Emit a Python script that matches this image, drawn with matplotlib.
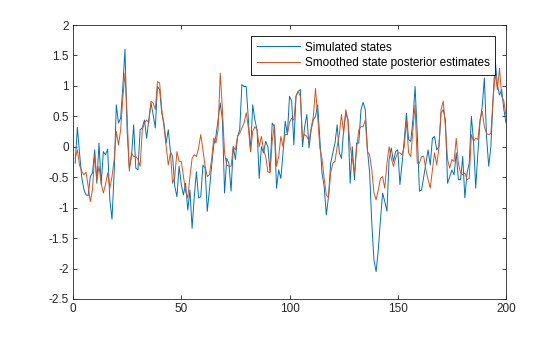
import matplotlib
matplotlib.use('Agg')
import matplotlib.pyplot as plt
import numpy as np

# values, samples 1..200
simulated = [
    -0.27, 0.32, -0.10, -0.49, -0.70, -0.79, -0.80, -0.49, -0.43, -0.05,
    -0.60, 0.06, -0.62, -0.08, -0.13, -0.04, -0.87, -1.19, -0.43, 0.69,
    0.39, 0.47, 0.99, 1.60, 0.25, -0.35, -0.16, 0.36, -0.35, -0.38,
    0.28, 0.31, 0.44, 0.14, 0.44, 0.72, 0.53, 0.31, 0.99, 0.94,
    0.55, 0.39, 0.06, 0.28, -0.08, -0.16, -0.65, -0.82, -0.32, -0.62,
    -0.79, -0.60, -1.04, -0.71, -1.34, -0.82, -0.41, -0.84, -0.82, -0.30,
    -0.35, -1.06, -0.71, -0.32, 0.03, 0.17, 0.44, 0.72, 0.44, -0.76,
    -0.19, -0.27, -0.73, 0.00, -0.21, 0.17, 0.28, 1.02, 0.99, 0.99,
    0.44, -0.08, 0.69, 0.44, 0.28, -0.52, 0.00, -0.10, 0.09, 0.00,
    -0.41, 0.39, 0.33, -0.68, -0.38, -0.52, -0.10, 0.42, 0.20, 0.83,
    0.75, 0.03, 0.83, 0.91, 0.94, 0.00, 0.33, 0.53, -0.02, 0.28,
    0.44, 0.50, 0.69, 0.12, -0.43, -0.65, -1.12, -0.82, -0.27, -0.10,
    0.06, 0.36, -0.10, -0.19, 0.28, 0.55, 0.44, -0.60, 0.00, -0.54,
    0.06, 0.06, 0.61, 0.73, 0.61, -0.05, -0.43, -1.25, -1.86, -2.05,
    -1.69, -1.20, -0.76, -0.90, -1.06, -0.21, -0.02, -0.24, -0.08, -0.05,
    -0.62, -0.27, 0.12, 0.55, 0.12, 0.09, 0.44, 0.99, 0.22, -0.73,
    -0.71, -0.49, -0.27, -0.05, -0.30, 0.14, 0.17, -0.05, 0.00, 0.55,
    0.61, 0.44, -0.60, -0.49, -0.38, -0.46, -0.10, -0.54, -0.54, -0.16,
    -0.84, -0.43, -0.27, 0.50, 0.09, -0.68, -0.10, 0.42, 0.66, 1.13,
    0.17, -0.32, 0.00, 0.77, 1.43, 1.02, 0.85, 0.94, 0.61, 0.39,
]
smoothed = [
    -0.19, -0.05, -0.30, -0.40, -0.46, -0.42, -0.65, -0.90, -0.70, -0.13,
    -0.55, -0.32, -0.60, -0.76, -0.62, -0.43, -0.68, -0.49, -0.21, 0.25,
    0.03, 0.28, 0.80, 1.21, 0.50, -0.40, -0.10, -0.16, -0.16, -0.21,
    -0.32, 0.28, 0.39, 0.44, 0.39, 0.75, 0.72, 0.61, 1.07, 1.05,
    0.61, 0.33, 0.01, -0.30, -0.10, -0.60, -0.49, -0.08, -0.24, -0.24,
    -0.49, -0.73, -0.84, -0.49, -0.19, -0.13, -0.16, -0.02, 0.20, -0.05,
    -0.32, -0.49, -0.46, -0.21, 0.14, 0.06, 0.28, 1.21, 0.61, -0.10,
    -0.30, -0.32, -0.32, 0.00, -0.05, 0.17, 0.22, 0.31, 0.39, 0.56,
    0.31, -0.08, 0.25, 0.33, 0.28, 0.00, 0.17, -0.05, -0.16, -0.41,
    -0.43, 0.09, 0.36, -0.32, -0.16, 0.17, 0.00, 0.20, 0.20, 0.40,
    0.47, 0.44, 0.83, 0.91, 0.83, 0.14, 0.20, 0.17, 0.09, 0.31,
    0.50, 0.96, 0.50, -0.02, -0.19, -0.52, -0.79, -0.84, -0.43, -0.27,
    -0.24, 0.00, 0.20, 0.53, 0.22, 0.61, 0.44, 0.00, -0.19, -0.43,
    -0.02, 0.28, 0.33, 0.33, 0.44, -0.08, -0.13, -0.38, -0.76, -0.87,
    -0.71, -0.52, -0.49, -0.68, -0.27, 0.00, -0.19, -0.32, -0.19, -0.10,
    -0.10, -0.13, 0.00, 0.44, -0.10, -0.16, 0.28, 0.69, -0.27, -0.27,
    -0.16, -0.16, -0.38, -0.54, -0.68, -0.38, -0.10, -0.30, -0.02, 0.61,
    0.75, 0.33, -0.21, -0.35, -0.21, -0.24, 0.14, -0.27, -0.43, -0.46,
    -0.43, -0.54, -0.52, 0.20, 0.09, 0.14, 0.12, 0.44, 0.58, 0.33,
    0.22, 0.20, 0.22, 0.77, 1.21, 0.94, 1.29, 0.83, 0.75, 0.50,
]
t = np.arange(1, len(simulated) + 1)

plt.rcParams['font.family'] = ['Liberation Sans', 'DejaVu Sans']
plt.rcParams['font.size'] = 8

fig = plt.figure(figsize=(5.6, 3.37), dpi=100)
ax = fig.add_axes([0.1304, 0.1128, 0.7732, 0.813])

ax.plot(t, simulated, color='#0072BD', lw=0.7, label='Simulated states')
ax.plot(t, smoothed, color='#D95319', lw=0.7, label='Smoothed state posterior estimates')

ax.set_xlim(0, 200)
ax.set_ylim(-2.5, 2)
ax.set_xticks([0, 50, 100, 150, 200])
ax.set_yticks(np.arange(-2.5, 2.01, 0.5))
ax.set_yticklabels(['-2.5', '-2', '-1.5', '-1', '-0.5', '0', '0.5', '1', '1.5', '2'])

ax.tick_params(direction='in', top=True, right=True, length=3, width=0.6,
               colors='#262626', labelsize=8.5, pad=3)
for s in ax.spines.values():
    s.set_linewidth(0.6)
    s.set_color('#262626')

leg = ax.legend(loc='upper right', fontsize=8.5, fancybox=False, framealpha=1,
                edgecolor='black', handlelength=3.6, borderpad=0.5,
                labelspacing=0.3, handletextpad=0.4, borderaxespad=0.9)
leg.get_frame().set_linewidth(0.6)

fig.savefig('out.png', dpi=100)
